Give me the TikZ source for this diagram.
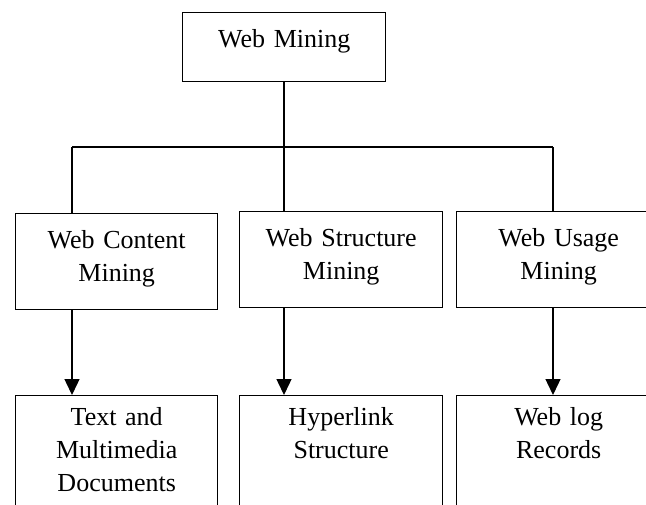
\documentclass[tikz,border=0pt]{standalone}
\usepackage{fontspec}
\setmainfont{Liberation Serif}
\usetikzlibrary{arrows.meta}

\begin{document}
\begin{tikzpicture}[x=1pt,y=-1pt,line width=1.4pt,
  box/.style={draw,anchor=north west,inner xsep=0pt,inner ysep=0pt,align=center,
    font=\fontsize{26}{33}\selectfont},
  midbox/.style={box,text height=35pt,text depth=61pt},
  lowbox/.style={box,text height=30pt,text depth=100pt},
  tip/.style={-{Triangle[length=16pt,width=15pt]}}]
\clip (0,0) rectangle (646,504);
% root
\node[box,text width=203pt,text height=35pt,text depth=34pt] (wm) at (182,12) {Web Mining};
% second row
\node[midbox,text width=202pt] (content) at (15,213) {Web Content\\Mining};
\node[midbox,text width=203pt] (structure) at (239,211) {Web Structure\\Mining};
\node[midbox,text width=204pt] (usage) at (456,211) {Web Usage\\Mining};
% third row
\node[lowbox,text width=202pt] (textdocs) at (15,395) {Text and\\Multimedia\\Documents};
\node[lowbox,text width=203pt] (hyperlink) at (239,395) {Hyperlink\\Structure};
\node[lowbox,text width=204pt] (weblog) at (456,395) {Web log\\Records};
% bus
\coordinate (busl) at (72,147);
\coordinate (busm) at (284,147);
\coordinate (busr) at (553,147);
\draw (busm |- wm.south) -- (busm);
\draw (busl) -- (busr);
\draw (busl) -- (busl |- content.north);
\draw (busm) -- (busm |- structure.north);
\draw (busr) -- (busr |- usage.north);
% arrows down
\draw[tip] (busl |- content.south) -- (busl |- textdocs.north);
\draw[tip] (busm |- structure.south) -- (busm |- hyperlink.north);
\draw[tip] (busr |- usage.south) -- (busr |- weblog.north);
\end{tikzpicture}
\end{document}
